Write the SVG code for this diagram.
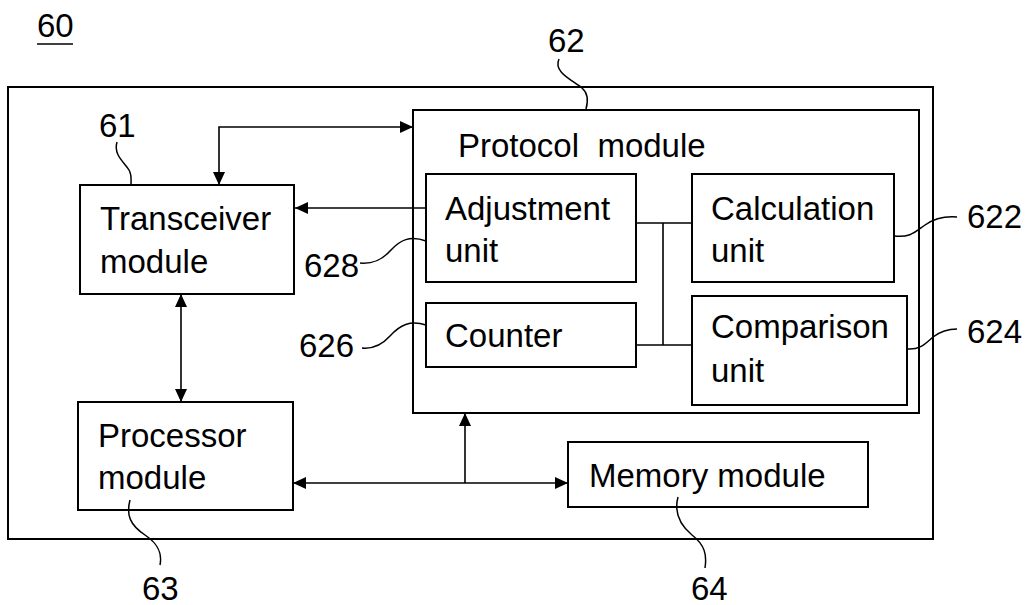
<svg xmlns="http://www.w3.org/2000/svg" width="1027" height="605" viewBox="0 0 1027 605">
<style>
.box{fill:none;stroke:#000;stroke-width:2}
.bg{fill:#fff}
.t{font-family:"Liberation Sans",Arial,sans-serif;font-size:33px;fill:#000;white-space:pre}
.c{fill:none;stroke:#000;stroke-width:1.6}
.ld{fill:none;stroke:#000;stroke-width:1.5}
</style>
<defs>
<marker id="ar" markerUnits="userSpaceOnUse" markerWidth="14" markerHeight="12" refX="13" refY="6" orient="auto-start-reverse">
<path d="M0,0 L13,6 L0,12 z" fill="#000"/>
</marker>
</defs>
<rect width="1027" height="605" fill="#fff"/>

<g id="label60">
<text class="t" x="37" y="37">60</text>
<line x1="37" y1="44" x2="73" y2="44" stroke="#000" stroke-width="1.5"/>
</g>

<g id="system">
<rect class="box" x="8" y="87" width="925" height="452"/>
</g>

<g id="protocol">
<rect class="box" x="413" y="110" width="506" height="303"/>
<text class="t" x="458" y="157">Protocol  module</text>
</g>

<g id="adjustment">
<rect class="box" x="426" y="174" width="210" height="108"/>
<text class="t" x="445" y="220">Adjustment</text>
<text class="t" x="445" y="262">unit</text>
</g>

<g id="calculation">
<rect class="box" x="692" y="174" width="202" height="108"/>
<text class="t" x="711" y="220">Calculation</text>
<text class="t" x="711" y="262">unit</text>
</g>

<g id="counter">
<rect class="box" x="426" y="303" width="210" height="64"/>
<text class="t" x="445" y="347">Counter</text>
</g>

<g id="comparison">
<rect class="box" x="692" y="296" width="215" height="109"/>
<text class="t" x="711" y="338">Comparison</text>
<text class="t" x="711" y="382">unit</text>
</g>

<g id="transceiver">
<rect class="box" x="80" y="185" width="214" height="109"/>
<text class="t" x="100" y="230">Transceiver</text>
<text class="t" x="100" y="273">module</text>
</g>

<g id="processor">
<rect class="box" x="78" y="402" width="215" height="108"/>
<text class="t" x="98" y="447">Processor</text>
<text class="t" x="98" y="489">module</text>
</g>

<g id="memory">
<rect class="box" x="568" y="442" width="300" height="65"/>
<text class="t" x="589" y="487">Memory module</text>
</g>

<g id="connectors">
<path class="c" d="M219,185 L219,127 L413,127" marker-start="url(#ar)" marker-end="url(#ar)"/>
<path class="c" d="M426,208 L295,208" marker-end="url(#ar)"/>
<path class="c" d="M181,294 L181,402" marker-start="url(#ar)" marker-end="url(#ar)"/>
<path class="c" d="M293,483 L568,483" marker-start="url(#ar)" marker-end="url(#ar)"/>
<path class="c" d="M465,483 L465,413" marker-end="url(#ar)"/>
<path class="c" d="M636,223 L692,223 M663,223 L663,345 M636,345 L692,345"/>
</g>

<g id="leaders">
<path class="ld" d="M559,59 C553,72 572,80 582,88 C589,94 588,102 586,109"/>
<text class="t" x="548" y="52">62</text>
<path class="ld" d="M117,142 C113,155 125,163 129,170 C132,175 131,180 131,185"/>
<text class="t" x="99" y="137">61</text>
<path class="ld" d="M426,241 C410,235 400,240 390,251 C381,261 372,264 360,263"/>
<text class="t" x="304" y="277">628</text>
<path class="ld" d="M426,325 C410,320 400,325 390,336 C381,346 372,349 362,348"/>
<text class="t" x="299" y="357">626</text>
<path class="ld" d="M894,236 C910,238 915,232 925,225 C935,218 945,216 957,217"/>
<text class="t" x="967" y="228">622</text>
<path class="ld" d="M907,349 C920,350 925,344 933,337 C941,331 948,329 957,329"/>
<text class="t" x="967" y="343">624</text>
<path class="ld" d="M130,500 C126,515 130,525 145,535 C160,545 162,555 160,565"/>
<text class="t" x="142" y="600">63</text>
<path class="ld" d="M678,497 C674,512 680,525 692,535 C705,545 707,555 705,568"/>
<text class="t" x="691" y="600">64</text>
</g>
</svg>
